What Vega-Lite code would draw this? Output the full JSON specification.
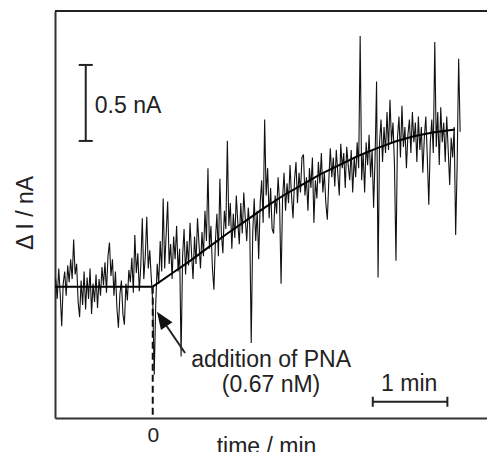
{
  "$schema": "https://vega.github.io/schema/vega-lite/v6.json",
  "width": 432,
  "height": 407,
  "autosize": "none",
  "padding": {"left": 55, "top": 11, "right": 0, "bottom": 34},
  "background": "white",
  "config": {"view": {"stroke": null}, "font": "Liberation Sans"},
  "datasets": {
    "trace": [
      {"t":-1.30,"v":0.05},{"t":-1.28,"v":-0.08},{"t":-1.26,"v":0.12},{"t":-1.24,"v":-0.05},{"t":-1.22,"v":-0.26},
      {"t":-1.20,"v":0.02},{"t":-1.18,"v":0.10},{"t":-1.16,"v":-0.06},{"t":-1.14,"v":0.14},{"t":-1.12,"v":0.03},
      {"t":-1.10,"v":0.18},{"t":-1.08,"v":0.05},{"t":-1.06,"v":0.31},{"t":-1.04,"v":0.08},{"t":-1.02,"v":0.15},
      {"t":-1.00,"v":-0.10},{"t":-0.98,"v":-0.20},{"t":-0.96,"v":0.04},{"t":-0.94,"v":-0.12},{"t":-0.92,"v":0.10},
      {"t":-0.90,"v":-0.15},{"t":-0.88,"v":0.06},{"t":-0.86,"v":-0.08},{"t":-0.84,"v":0.12},{"t":-0.82,"v":-0.18},
      {"t":-0.80,"v":0.02},{"t":-0.78,"v":-0.10},{"t":-0.76,"v":0.08},{"t":-0.74,"v":-0.14},{"t":-0.72,"v":0.05},
      {"t":-0.70,"v":-0.06},{"t":-0.68,"v":0.13},{"t":-0.66,"v":0.01},{"t":-0.64,"v":0.16},{"t":-0.62,"v":-0.04},
      {"t":-0.60,"v":0.20},{"t":-0.58,"v":0.29},{"t":-0.56,"v":0.07},{"t":-0.54,"v":0.18},{"t":-0.52,"v":-0.06},
      {"t":-0.50,"v":0.10},{"t":-0.48,"v":-0.14},{"t":-0.46,"v":-0.27},{"t":-0.44,"v":-0.05},{"t":-0.42,"v":0.04},
      {"t":-0.40,"v":-0.18},{"t":-0.38,"v":-0.25},{"t":-0.36,"v":0.02},{"t":-0.34,"v":-0.09},{"t":-0.32,"v":0.11},
      {"t":-0.30,"v":0.03},{"t":-0.28,"v":0.19},{"t":-0.26,"v":-0.04},{"t":-0.24,"v":0.34},{"t":-0.22,"v":0.09},
      {"t":-0.20,"v":0.22},{"t":-0.18,"v":-0.03},{"t":-0.16,"v":0.14},{"t":-0.14,"v":0.45},{"t":-0.12,"v":0.05},
      {"t":-0.10,"v":0.20},{"t":-0.08,"v":0.46},{"t":-0.06,"v":0.12},{"t":-0.04,"v":0.24},{"t":-0.02,"v":0.06},
      {"t":0.00,"v":-0.10},{"t":0.02,"v":-0.58},{"t":0.04,"v":-0.12},{"t":0.06,"v":0.15},{"t":0.08,"v":0.02},
      {"t":0.10,"v":0.30},{"t":0.12,"v":0.10},{"t":0.14,"v":0.58},{"t":0.16,"v":0.12},{"t":0.18,"v":0.35},
      {"t":0.20,"v":0.56},{"t":0.22,"v":0.15},{"t":0.24,"v":0.28},{"t":0.26,"v":0.05},{"t":0.28,"v":0.33},
      {"t":0.30,"v":0.18},{"t":0.32,"v":0.40},{"t":0.34,"v":0.10},{"t":0.36,"v":0.25},{"t":0.38,"v":-0.46},
      {"t":0.40,"v":0.20},{"t":0.42,"v":0.38},{"t":0.44,"v":0.08},{"t":0.46,"v":0.30},{"t":0.48,"v":0.14},
      {"t":0.50,"v":0.42},{"t":0.52,"v":0.22},{"t":0.54,"v":0.05},{"t":0.56,"v":0.33},{"t":0.58,"v":0.15},
      {"t":0.60,"v":0.45},{"t":0.62,"v":0.28},{"t":0.64,"v":0.12},{"t":0.66,"v":0.36},{"t":0.68,"v":0.20},
      {"t":0.70,"v":0.50},{"t":0.72,"v":0.30},{"t":0.74,"v":0.78},{"t":0.76,"v":0.25},{"t":0.78,"v":0.40},
      {"t":0.80,"v":0.12},{"t":0.82,"v":-0.02},{"t":0.84,"v":0.30},{"t":0.86,"v":0.48},{"t":0.88,"v":0.20},
      {"t":0.90,"v":0.71},{"t":0.92,"v":0.35},{"t":0.94,"v":0.22},{"t":0.96,"v":0.50},{"t":0.98,"v":0.38},
      {"t":1.00,"v":0.96},{"t":1.02,"v":0.40},{"t":1.04,"v":0.55},{"t":1.06,"v":0.25},{"t":1.08,"v":0.48},
      {"t":1.10,"v":0.32},{"t":1.12,"v":0.60},{"t":1.14,"v":0.42},{"t":1.16,"v":0.28},{"t":1.18,"v":0.55},
      {"t":1.20,"v":0.35},{"t":1.22,"v":0.62},{"t":1.24,"v":0.45},{"t":1.26,"v":0.30},{"t":1.28,"v":0.52},
      {"t":1.30,"v":0.40},{"t":1.32,"v":-0.37},{"t":1.34,"v":0.35},{"t":1.36,"v":0.58},{"t":1.38,"v":0.30},
      {"t":1.40,"v":0.50},{"t":1.42,"v":0.18},{"t":1.44,"v":0.55},{"t":1.46,"v":0.70},{"t":1.48,"v":0.42},
      {"t":1.50,"v":1.10},{"t":1.52,"v":0.60},{"t":1.54,"v":0.78},{"t":1.56,"v":0.45},{"t":1.58,"v":0.65},
      {"t":1.60,"v":0.38},{"t":1.62,"v":0.35},{"t":1.64,"v":0.60},{"t":1.66,"v":0.48},{"t":1.68,"v":0.72},
      {"t":1.70,"v":0.55},{"t":1.72,"v":0.02},{"t":1.74,"v":0.58},{"t":1.76,"v":0.75},{"t":1.78,"v":0.50},
      {"t":1.80,"v":0.68},{"t":1.82,"v":0.55},{"t":1.84,"v":0.80},{"t":1.86,"v":0.60},{"t":1.88,"v":0.45},
      {"t":1.90,"v":0.70},{"t":1.92,"v":0.82},{"t":1.94,"v":0.55},{"t":1.96,"v":0.75},{"t":1.98,"v":0.62},
      {"t":2.00,"v":0.85},{"t":2.02,"v":0.87},{"t":2.04,"v":0.60},{"t":2.06,"v":0.72},{"t":2.08,"v":0.50},
      {"t":2.10,"v":0.78},{"t":2.12,"v":0.65},{"t":2.14,"v":0.85},{"t":2.16,"v":0.42},{"t":2.18,"v":0.70},
      {"t":2.20,"v":0.58},{"t":2.22,"v":0.82},{"t":2.24,"v":0.68},{"t":2.26,"v":0.88},{"t":2.28,"v":0.62},
      {"t":2.30,"v":0.75},{"t":2.32,"v":0.55},{"t":2.34,"v":0.44},{"t":2.36,"v":0.70},{"t":2.38,"v":0.91},
      {"t":2.40,"v":0.72},{"t":2.42,"v":0.85},{"t":2.44,"v":0.66},{"t":2.46,"v":0.90},{"t":2.48,"v":0.75},
      {"t":2.50,"v":0.60},{"t":2.52,"v":0.94},{"t":2.54,"v":0.78},{"t":2.56,"v":0.88},{"t":2.58,"v":0.65},
      {"t":2.60,"v":0.92},{"t":2.62,"v":0.80},{"t":2.64,"v":0.70},{"t":2.66,"v":0.90},{"t":2.68,"v":0.62},
      {"t":2.70,"v":0.85},{"t":2.72,"v":0.72},{"t":2.74,"v":0.95},{"t":2.76,"v":0.78},{"t":2.78,"v":1.65},
      {"t":2.80,"v":0.70},{"t":2.82,"v":0.88},{"t":2.84,"v":0.62},{"t":2.86,"v":0.95},{"t":2.88,"v":0.80},
      {"t":2.90,"v":1.00},{"t":2.92,"v":0.72},{"t":2.94,"v":0.90},{"t":2.96,"v":0.52},{"t":2.98,"v":0.85},
      {"t":3.00,"v":1.35},{"t":3.02,"v":0.06},{"t":3.04,"v":0.95},{"t":3.06,"v":1.10},{"t":3.08,"v":0.82},
      {"t":3.10,"v":1.05},{"t":3.12,"v":0.88},{"t":3.14,"v":1.15},{"t":3.16,"v":0.90},{"t":3.18,"v":1.23},
      {"t":3.20,"v":0.95},{"t":3.22,"v":1.08},{"t":3.24,"v":0.80},{"t":3.26,"v":0.17},{"t":3.28,"v":0.98},
      {"t":3.30,"v":1.12},{"t":3.32,"v":0.85},{"t":3.34,"v":1.19},{"t":3.36,"v":0.92},{"t":3.38,"v":1.05},
      {"t":3.40,"v":0.78},{"t":3.42,"v":1.00},{"t":3.44,"v":1.10},{"t":3.46,"v":0.88},{"t":3.48,"v":1.15},
      {"t":3.50,"v":0.95},{"t":3.52,"v":1.08},{"t":3.54,"v":0.82},{"t":3.56,"v":1.12},{"t":3.58,"v":0.90},
      {"t":3.60,"v":1.05},{"t":3.62,"v":0.75},{"t":3.64,"v":0.98},{"t":3.66,"v":1.12},{"t":3.68,"v":0.85},
      {"t":3.70,"v":0.54},{"t":3.72,"v":0.95},{"t":3.74,"v":1.10},{"t":3.76,"v":0.88},{"t":3.78,"v":1.61},
      {"t":3.80,"v":0.92},{"t":3.82,"v":1.15},{"t":3.84,"v":0.80},{"t":3.86,"v":1.18},{"t":3.88,"v":0.95},
      {"t":3.90,"v":1.08},{"t":3.92,"v":0.82},{"t":3.94,"v":1.12},{"t":3.96,"v":0.90},{"t":3.98,"v":0.67},
      {"t":4.00,"v":0.98},{"t":4.02,"v":0.85},{"t":4.04,"v":1.05},{"t":4.06,"v":0.34},{"t":4.08,"v":0.80},
      {"t":4.10,"v":1.50},{"t":4.12,"v":1.02}
    ],
    "fit": [
      {"t":-1.31,"v":0},{"t":0,"v":0},{"t":0.25,"v":0.085},{"t":0.5,"v":0.17},{"t":0.75,"v":0.26},
      {"t":1.0,"v":0.35},{"t":1.25,"v":0.435},{"t":1.5,"v":0.52},{"t":1.75,"v":0.6},{"t":2.0,"v":0.67},
      {"t":2.25,"v":0.74},{"t":2.5,"v":0.8},{"t":2.75,"v":0.86},{"t":3.0,"v":0.91},{"t":3.25,"v":0.955},
      {"t":3.5,"v":0.99},{"t":3.75,"v":1.015},{"t":4.05,"v":1.035}
    ],
    "rules": [
      {"t":-0.898,"v":0.959,"t2":-0.898,"v2":1.459},
      {"t":-0.992,"v":1.459,"t2":-0.804,"v2":1.459},
      {"t":-0.992,"v":0.959,"t2":-0.804,"v2":0.959},
      {"t":2.949,"v":-0.757,"t2":3.949,"v2":-0.757},
      {"t":2.949,"v":-0.724,"t2":2.949,"v2":-0.79},
      {"t":3.949,"v":-0.724,"t2":3.949,"v2":-0.79},
      {"t":0.433,"v":-0.436,"t2":0.186,"v2":-0.259},
      {"t":-1.31,"v":1.814,"t2":4.48,"v2":1.814}
    ],
    "dashed": [
      {"t":0,"v":0,"t2":0,"v2":-0.864}
    ],
    "head": [
      {"t":0.122,"v":-0.2125}
    ],
    "labels": [
      {"t":-0.331,"v":1.143,"label":"0.5 nA"},
      {"t":1.586,"v":-0.526,"label":"addition of PNA"},
      {"t":1.586,"v":-0.69,"label":"(0.67 nM)"},
      {"t":3.437,"v":-0.684,"label":"1 min"}
    ]
  },
  "encoding": {
    "x": {
      "field": "t", "type": "quantitative",
      "scale": {"domain": [-1.31, 4.48], "nice": false, "zero": false},
      "axis": {
        "values": [0], "ticks": false, "grid": false,
        "domainColor": "#333", "domainWidth": 2,
        "labelFontSize": 21, "labelColor": "#222", "labelPadding": 6, "labelFont": "Liberation Sans",
        "title": "time / min", "titleFontSize": 23, "titleFontWeight": "normal", "titleColor": "#222",
        "titleFont": "Liberation Sans",
        "titleX": 211, "titleY": 35, "titleBaseline": "alphabetic", "titleAlign": "center", "titleAnchor": null
      }
    },
    "y": {
      "field": "v", "type": "quantitative",
      "scale": {"domain": [-0.864, 1.814], "nice": false, "zero": false},
      "axis": {
        "labels": false, "ticks": false, "grid": false,
        "domainColor": "#333", "domainWidth": 2,
        "title": "Δ I / nA", "titleFontSize": 23, "titleFontWeight": "normal", "titleColor": "#222",
        "titleFont": "Liberation Sans",
        "titleX": -23, "titleY": 201.5, "titleAngle": -90, "titleBaseline": "alphabetic", "titleAlign": "center"
      }
    }
  },
  "layer": [
    {
      "data": {"name": "trace"},
      "mark": {"type": "line", "color": "#111", "strokeWidth": 1.1}
    },
    {
      "data": {"name": "fit"},
      "mark": {"type": "line", "color": "#000", "strokeWidth": 2}
    },
    {
      "data": {"name": "rules"},
      "mark": {"type": "rule", "color": "#222", "strokeWidth": 2},
      "encoding": {"x2": {"field": "t2"}, "y2": {"field": "v2"}}
    },
    {
      "data": {"name": "dashed"},
      "mark": {"type": "rule", "color": "#111", "strokeWidth": 2, "strokeDash": [7, 4]},
      "encoding": {"x2": {"field": "t2"}, "y2": {"field": "v2"}}
    },
    {
      "data": {"name": "head"},
      "mark": {"type": "point", "shape": "M0,-1L-0.8,1L0.8,1Z", "size": 300, "angle": 326, "filled": true, "color": "#111", "opacity": 1}
    },
    {
      "data": {"name": "labels"},
      "mark": {"type": "text", "fontSize": 23, "font": "Liberation Sans", "color": "#222", "align": "center", "baseline": "alphabetic"},
      "encoding": {"text": {"field": "label"}}
    }
  ]
}
